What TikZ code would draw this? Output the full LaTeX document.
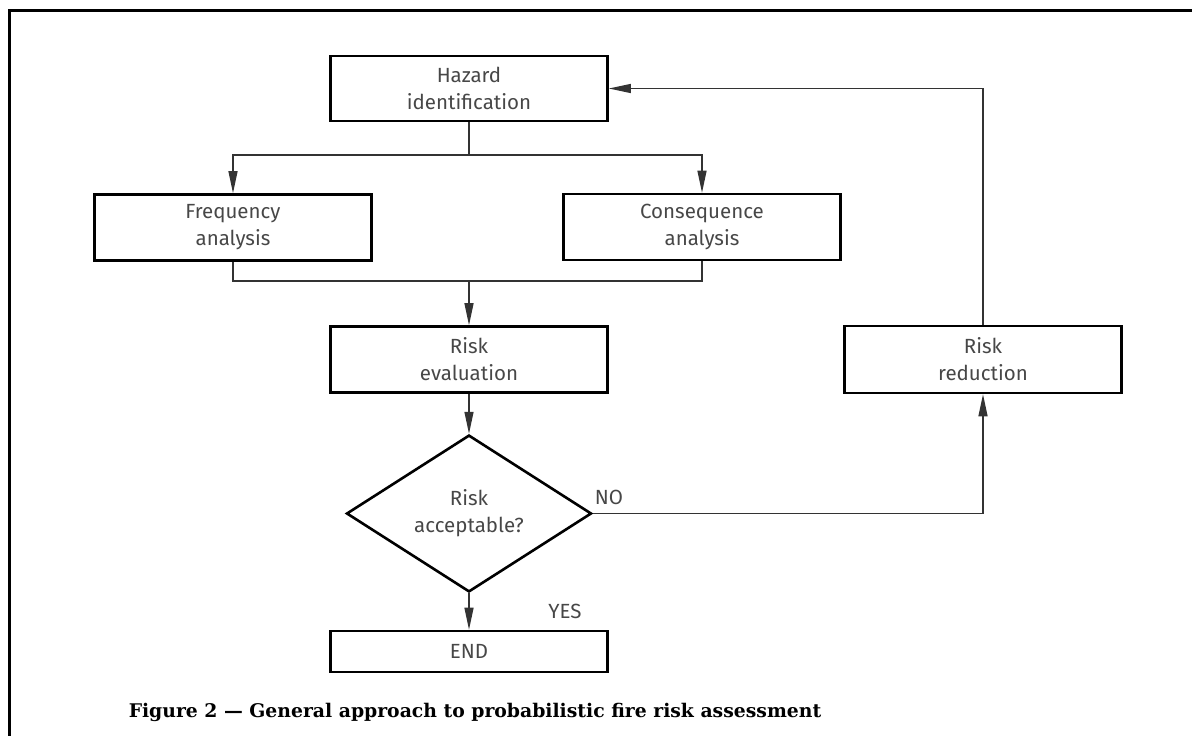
\documentclass[tikz,border=0pt]{standalone}
\usepackage{fontspec}
\newfontfamily\isofont{Fira Sans}
\newfontfamily\capfont{DejaVu Serif}
\usetikzlibrary{arrows.meta,calc,shapes.geometric}
\definecolor{TextClr}{gray}{0.28}

\begin{document}
\begin{tikzpicture}[x=1pt,y=-1pt,
  box/.style={draw,line width=2.6pt,minimum width=277pt,inner sep=0pt,
    align=center,text=TextClr,font=\isofont\fontsize{20.5}{27}\selectfont},
  tag/.style={text=TextClr,font=\isofont\fontsize{20.5}{27}\selectfont},
  link/.style={line width=1.3pt,draw=black!80},
  arr/.style={link,-{Triangle[length=22pt,width=9pt]}}]
\useasboundingbox (0,0) rectangle (1192,736);
\draw[line width=3pt] (9,736) -- (9,10) -- (1192,10);

% boxes
\node[box,minimum height=65pt] (H) at (469,88.5) {Hazard\\identification};
\node[box,minimum height=66pt] (F) at (233,227.5) {Frequency\\analysis};
\node[box,minimum height=66pt] (C) at (702,227) {Consequence\\analysis};
\node[box,minimum height=66pt] (E) at (469,359.5) {Risk\\evaluation};
\node[box,diamond,minimum width=245pt,minimum height=151pt] (Q) at (469,513.5) {Risk\\acceptable?};
\node[box,minimum height=41pt] (End) at (469,651.5) {END};
\node[box,minimum height=67pt] (R) at (983,359.5) {Risk\\reduction};

\coordinate (split) at (469,155);
\coordinate (join) at (469,281);

% connectors
\draw[link] (H.south) -- (split);
\draw[arr] (split) -| (F.north);
\draw[arr] (split) -| (C.north);
\draw[link] (F.south) |- (join) -| (C.south);
\draw[arr] (join) -- (E.north);
\draw[arr] (E.south) -- (Q.north);
\draw[arr] (Q.south) -- (End.north);
\draw[arr] (Q.east) -| (R.south);
\draw[arr] (R.north) |- (H.east);

\node[tag] (no) at (609,497) {NO};
\node[tag] (yes) at (565,611) {YES};

\node[font=\capfont\bfseries\fontsize{18.8}{22}\selectfont] (cap) at (475,712)
  {Figure 2 — General approach to probabilistic fire risk assessment};
\end{tikzpicture}
\end{document}
